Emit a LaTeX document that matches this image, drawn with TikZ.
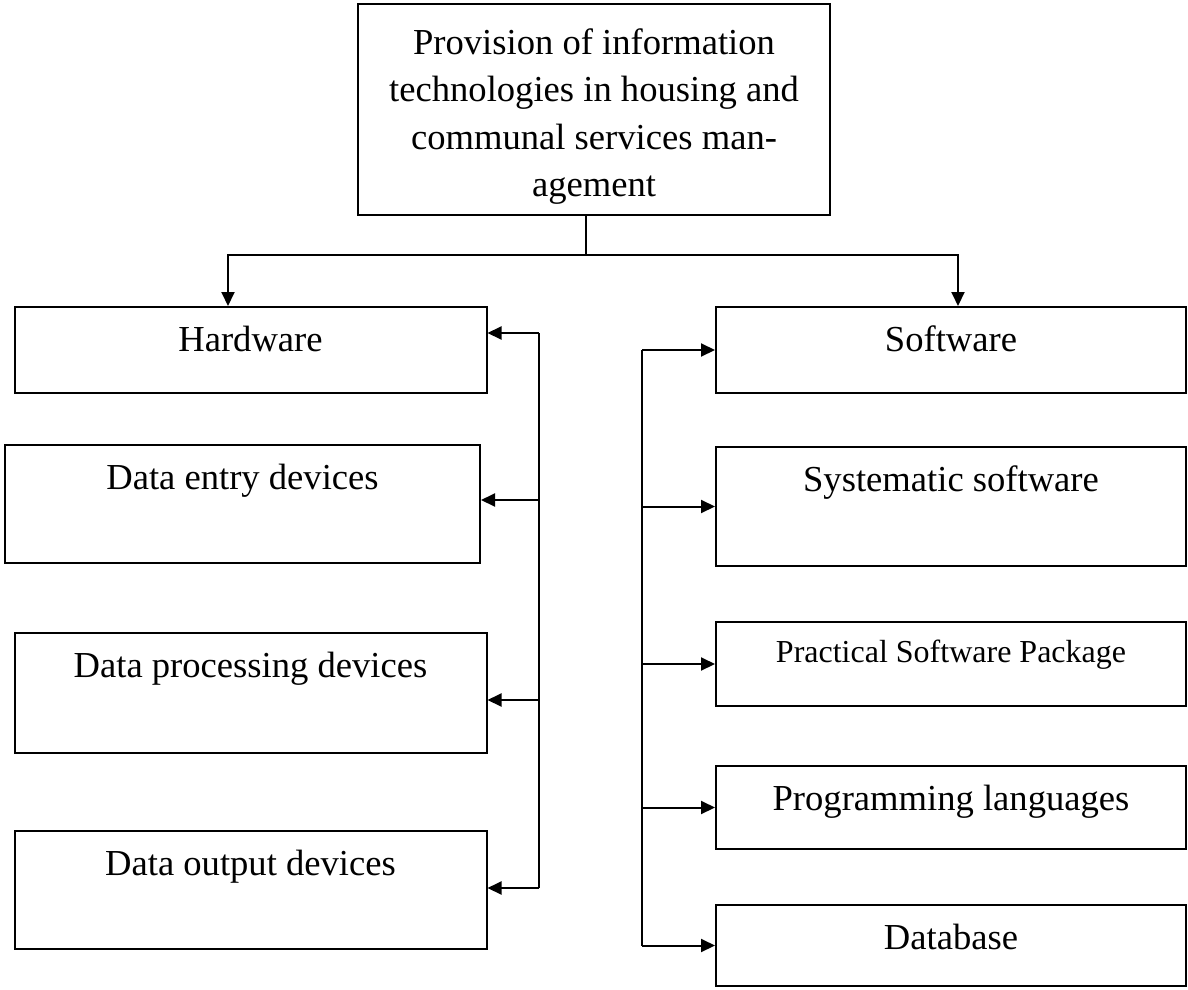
\documentclass[tikz,border=0pt]{standalone}
\usepackage{fontspec}
\setmainfont{Liberation Serif}
\usetikzlibrary{arrows.meta,positioning}

\tikzset{
  partbox/.style={draw, line width=1pt, minimum width=236pt, inner ysep=0pt,
    text height=22pt, text depth=#1},
  arr/.style={-{Triangle[length=7pt,width=6.5pt]}}
}

\begin{document}
\begin{tikzpicture}[x=0.5pt, y=-0.5pt, line width=1pt,
  every node/.style={font=\fontsize{18.3}{23.8}\selectfont}]
  \useasboundingbox (0,0) rectangle (1188,990);

  \node[draw, line width=1pt, minimum width=236pt, minimum height=105.5pt, align=center]
    (top) at (594,109.5) {\rule{0pt}{20pt}Provision of information\\technologies in housing and\\communal services man-\\agement};

  % hardware side
  \node[partbox=21pt] (hw) at (250.5,350) {Hardware};
  \node[partbox=37pt, minimum width=237.5pt, below=25pt of hw, xshift=-4pt] (de) {Data entry devices};
  \node[partbox=38pt, below=34pt of de, xshift=4pt] (dp) {Data processing devices};
  \node[partbox=37pt, below=38pt of dp] (do) {Data output devices};

  % software side
  \node[partbox=21pt, minimum width=235pt] (sw) at (951,350) {Software};
  \node[partbox=37.5pt, minimum width=235pt, below=26pt of sw] (sys) {Systematic software};
  \node[partbox=22pt, minimum width=235pt, text height=20pt, below=27pt of sys,
    font=\fontsize{16}{19}\selectfont] (prac) {Practical Software Package};
  \node[partbox=19.5pt, minimum width=235pt, below=29pt of prac] (prog) {Programming languages};
  \node[partbox=18.5pt, minimum width=235pt, below=27pt of prog] (db) {Database};

  \coordinate (fork) at (586,255);
  \draw ([xshift=-4pt]top.south) -- (fork);
  \draw[arr] (fork) -| ([xshift=-11.25pt]hw.north);
  \draw[arr] (fork) -| ([xshift=3.5pt]sw.north);

  \coordinate (lbus) at (539,333);
  \draw[arr] (lbus) -- (lbus -| hw.east);
  \foreach \n/\dy in {de/2pt,dp/-3.5pt,do/1pt}{
    \coordinate (\n-in) at ([yshift=\dy]\n.east);
    \draw[arr] (lbus |- \n-in) -- (\n-in);
  }
  \draw (lbus) -- (lbus |- do-in);

  \coordinate (rbus) at (642,351);
  \draw (rbus |- sw.west) -- (rbus |- db.west);
  \foreach \n in {sw,sys,prac,prog,db}
    \draw[arr] (rbus |- \n.west) -- (\n.west);
\end{tikzpicture}
\end{document}
